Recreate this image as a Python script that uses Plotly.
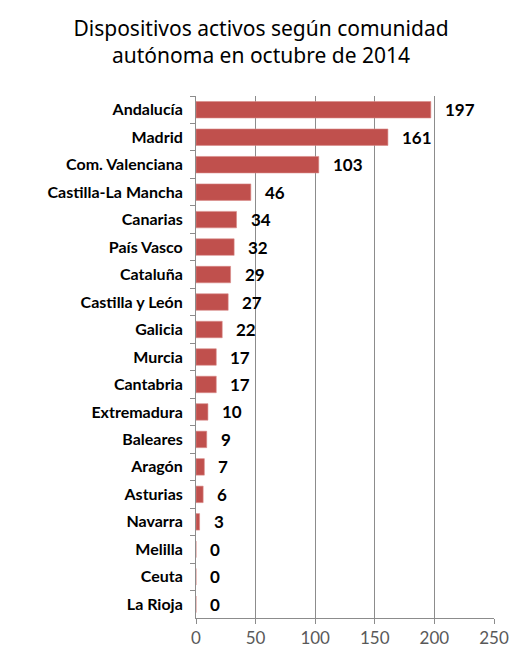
import plotly.graph_objects as go

regions = ["Andalucía", "Madrid", "Com. Valenciana", "Castilla-La Mancha", "Canarias",
           "País Vasco", "Cataluña", "Castilla y León", "Galicia", "Murcia", "Cantabria",
           "Extremadura", "Baleares", "Aragón", "Asturias", "Navarra", "Melilla", "Ceuta",
           "La Rioja"]
devices = [197, 161, 103, 46, 34, 32, 29, 27, 22, 17, 17, 10, 9, 7, 6, 3, 0, 0, 0]
x_ticks = [0, 50, 100, 150, 200, 250]

title = "Dispositivos activos según comunidad<br>autónoma en octubre de 2014"

W, H = 510, 650
L, R, T, B = 196, 16, 96, 32

fig = go.Figure()
fig.add_trace(go.Bar(
    x=devices, y=regions, orientation="h",
    marker=dict(color="#C0504D", line=dict(width=0.6, color="#d98a88")),
    width=0.6, hoverinfo="x+y",
))

for r, v in zip(regions, devices):
    fig.add_annotation(x=v, y=r, text=f"<b>{v}</b>", showarrow=False,
                       xanchor="left", xshift=12,
                       font=dict(family="Lato, sans-serif", size=17, color="#000"))

fig.update_layout(
    width=W, height=H,
    margin=dict(l=L, r=R, t=T, b=B, autoexpand=False),
    paper_bgcolor="white", plot_bgcolor="white",
    showlegend=False,
    title=dict(text=title, x=261 / W, xanchor="center", y=1 - 36 / H, yanchor="middle",
               font=dict(family="Noto Sans, sans-serif", size=21, color="#000")),
    xaxis=dict(range=[0, 250], tickvals=x_ticks, showgrid=True, gridcolor="#8c8c8c",
               gridwidth=1, showline=True, linecolor="#8c8c8c", ticks="outside",
               ticklen=5, tickcolor="#8c8c8c", zeroline=False, automargin=False,
               tickfont=dict(family="Lato, sans-serif", size=17, color="#595959")),
    yaxis=dict(autorange="reversed", showline=True, linecolor="#8c8c8c",
               ticks="outside", ticklen=5, tickcolor="#8c8c8c", tickson="boundaries",
               ticklabelstandoff=9, automargin=False,
               tickfont=dict(family="Lato, sans-serif", size=16, color="#000", weight="bold")),
    bargap=0.4,
)

fig.write_html("out.html", config={"displayModeBar": False},
               post_script="document.body.style.margin='0';document.body.style.overflow='hidden';")
